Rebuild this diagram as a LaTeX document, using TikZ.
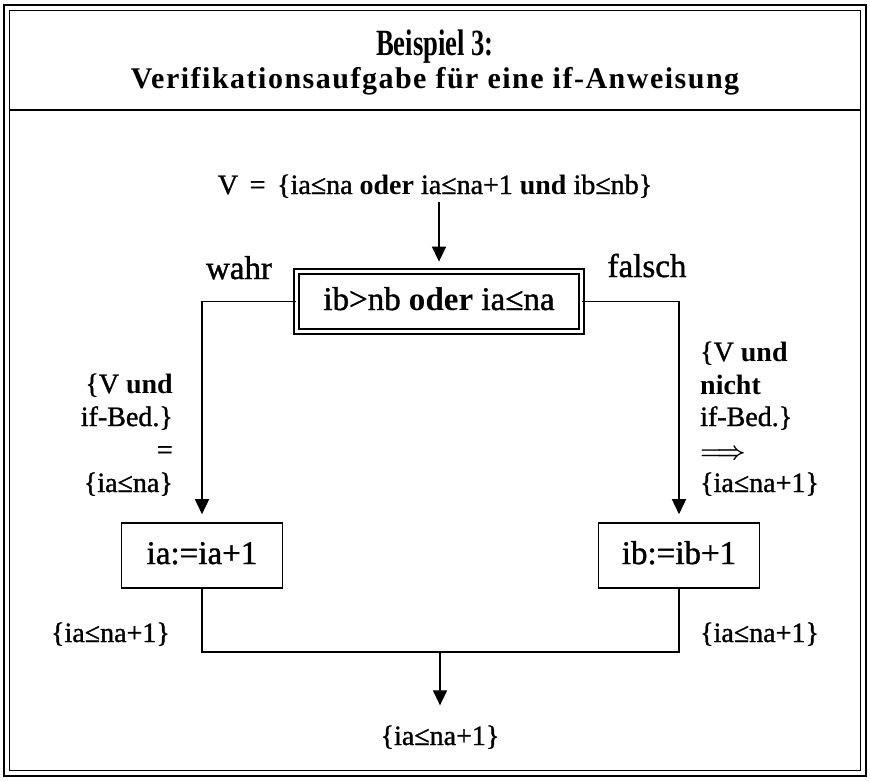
\documentclass[tikz,border=0pt]{standalone}
\usepackage{graphicx}
\usepackage{fontspec}
\setmainfont{Liberation Serif}
\newfontfamily\heavyfont{Liberation Serif}[UprightFeatures={FakeBold=1.2}]
\newfontfamily\headfont{Liberation Serif}[LetterSpace=5]
\newcommand{\enlarged}[1]{\scalebox{1.18}{#1}}
\usetikzlibrary{arrows.meta}
\begin{document}
\begin{tikzpicture}[x=1pt,y=-1pt,
  every node/.style={inner sep=0pt, font=\heavyfont\fontsize{28}{33}\selectfont},
  flow/.style={line width=1.6pt},
  arr/.style={flow, -{Triangle[width=14pt,length=15pt]}},
  stmt/.style={draw, line width=1.6pt, minimum width=161pt, minimum height=65pt,
    text height=23pt, text depth=6pt},
  cond/.style={draw, double, line width=1.8pt, double distance=3pt,
    minimum width=285pt, minimum height=60pt, text height=23pt, text depth=6pt},
  lbl/.style={anchor=base},
  lbll/.style={anchor=base east},
  lblr/.style={anchor=base west},
]
\useasboundingbox (0,0) rectangle (870,781);

% outer double frame and header divider
\draw[line width=2.5pt] (4,5) rectangle (866,776);
\draw[line width=1.2pt] (9.5,10.5) rectangle (860.5,770.5);
\draw[line width=2.5pt] (9.5,110) -- (860.5,110);

% header
\node[lbl] (title) at (435,56) {\scalebox{0.72}[1]{\rmfamily\fontsize{37}{40}\selectfont\bfseries Beispiel 3:}};
\node[lbl] (subtitle) at (435,89) {\fontsize{30}{34}\headfont\bfseries Verifikationsaufgabe für eine if-Anweisung};

% precondition
\node[lbl] (pre) at (435,194) {V \,=\, \{ia≤na \textbf{oder} ia≤na+1 \textbf{und} ib≤nb\}};
\coordinate (prebot) at (439,202);

% condition and branches
\node[cond] (test) at (439,301.5) {\enlarged{ib>nb \textbf{oder} ia≤na}};
\node[stmt] (inca) at (202,555.5) {\enlarged{ia:=ia+1}};
\node[stmt] (incb) at (679,555.5) {\enlarged{ib:=ib+1}};

\node[lbl] (wahr) at (239,279) {\enlarged{wahr}};
\node[lbl] (falsch) at (647,277) {\enlarged{falsch}};

% then-branch precondition
\node[lbll] (l1) at (173,393) {\{V \textbf{und}};
\node[lbll] (l2) at (173,426) {if-Bed.\}};
\node[lbll] (l3) at (173,459) {=};
\node[lbll] (l4) at (173,492) {\{ia≤na\}};

% else-branch precondition
\node[lblr] (r1) at (700,361) {\{V \textbf{und}};
\node[lblr] (r2) at (700,394) {\textbf{nicht}};
\node[lblr] (r3) at (700,426) {if-Bed.\}};
\node[lblr] (r4) at (700,459) {{\boldmath$\Longrightarrow$}};
\node[lblr] (r5) at (700,492) {\{ia≤na+1\}};

% postconditions
\node[lbll] (posta) at (170,642) {\{ia≤na+1\}};
\node[lblr] (postb) at (700,642) {\{ia≤na+1\}};
\node[lbl] (post) at (440,745) {\{ia≤na+1\}};

% connectors
\draw[arr, shorten >=9pt] (prebot) -- (test.north);
\draw[arr, shorten >=8pt] (test.west) -| (inca.north);
\draw[arr, shorten >=8pt] (test.east) -| (incb.north);
\coordinate (join) at (440,652);
\draw[flow] (inca.south) |- (join) -| (incb.south);
\draw[arr, shorten >=20pt] (join) -- (post.north);
\end{tikzpicture}
\end{document}
